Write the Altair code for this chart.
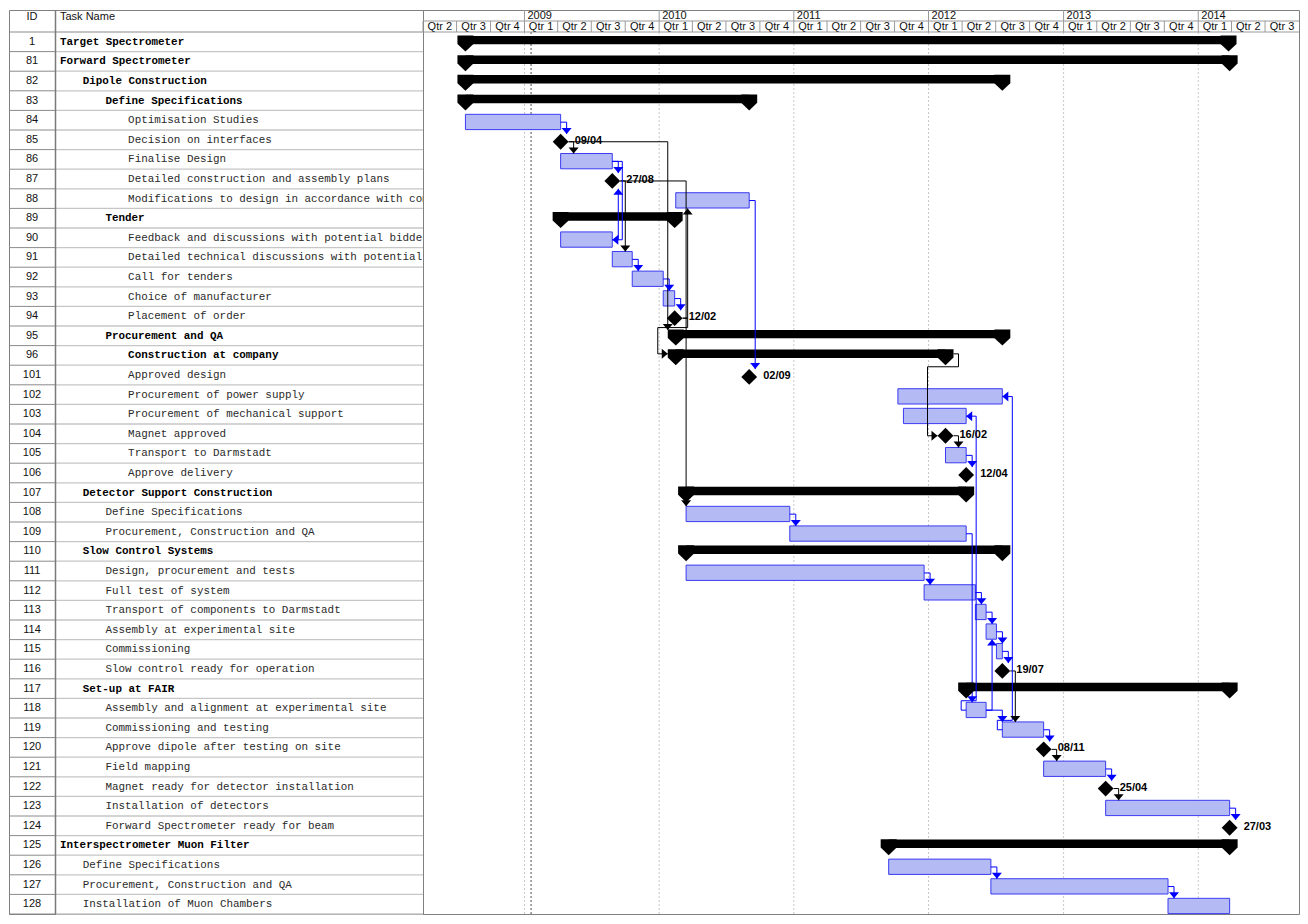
import altair as alt
import pandas as pd

# ---------------- data ----------------
ids = [1, 81, 82, 83, 84, 85, 86, 87, 88, 89, 90, 91, 92, 93, 94, 95, 96,
       101, 102, 103, 104, 105, 106, 107, 108, 109, 110, 111, 112, 113, 114,
       115, 116, 117, 118, 119, 120, 121, 122, 123, 124, 125, 126, 127, 128]
names = ["Target Spectrometer", "Forward Spectrometer", "Dipole Construction",
         "Define Specifications", "Optimisation Studies", "Decision on interfaces",
         "Finalise Design", "Detailed construction and assembly plans",
         "Modifications to design in accordance with comments", "Tender",
         "Feedback and discussions with potential bidders",
         "Detailed technical discussions with potential bidders", "Call for tenders",
         "Choice of manufacturer", "Placement of order", "Procurement and QA",
         "Construction at company", "Approved design", "Procurement of power supply",
         "Procurement of mechanical support", "Magnet approved", "Transport to Darmstadt",
         "Approve delivery", "Detector Support Construction", "Define Specifications",
         "Procurement, Construction and QA", "Slow Control Systems",
         "Design, procurement and tests", "Full test of system",
         "Transport of components to Darmstadt", "Assembly at experimental site",
         "Commissioning", "Slow control ready for operation", "Set-up at FAIR",
         "Assembly and alignment at experimental site", "Commissioning and testing",
         "Approve dipole after testing on site", "Field mapping",
         "Magnet ready for detector installation", "Installation of detectors",
         "Forward Spectrometer ready for beam", "Interspectrometer Muon Filter",
         "Define Specifications", "Procurement, Construction and QA",
         "Installation of Muon Chambers"]
levels = [0, 0, 1, 2, 3, 3, 3, 3, 3, 2, 3, 3, 3, 3, 3, 2, 3,
          3, 3, 3, 3, 3, 3, 1, 2, 2, 1, 2, 2, 2, 2,
          2, 2, 1, 2, 2, 2, 2, 2, 2, 2, 0, 1, 1, 1]
# S = summary, T = task, M = milestone
kinds = ["S", "S", "S", "S", "T", "M", "T", "M", "T", "S", "T", "T", "T", "T", "M", "S", "S",
         "M", "T", "T", "M", "T", "M", "S", "T", "T", "S", "T", "T", "T", "T",
         "T", "M", "S", "T", "T", "M", "T", "M", "T", "M", "S", "T", "T", "T"]
starts = ["2008-07-25", "2008-07-25", "2008-07-25", "2008-07-25", "2008-07-25", "2009-04-09",
          "2009-04-09", "2009-08-27", "2010-02-15", "2009-04-09", "2009-04-09", "2009-08-27",
          "2009-10-20", "2010-01-12", "2010-02-12", "2010-02-15", "2010-02-15",
          "2010-09-02", "2011-10-10", "2011-10-25", "2012-02-16", "2012-02-16", "2012-04-12",
          "2010-03-15", "2010-03-15", "2010-12-21", "2010-03-15", "2010-03-15", "2011-12-20",
          "2012-05-07", "2012-06-05",
          "2012-07-03", "2012-07-19", "2012-04-12", "2012-04-12", "2012-07-19", "2012-11-08",
          "2012-11-08", "2013-04-25", "2013-04-25", "2014-03-27", "2011-09-15", "2011-09-15",
          "2012-06-18", "2013-10-11"]
ends = ["2014-03-24", "2014-03-27", "2012-07-19", "2010-09-02", "2009-04-09", "2009-04-09",
        "2009-08-27", "2009-08-27", "2010-09-02", "2010-02-12", "2009-08-27", "2009-10-20",
        "2010-01-12", "2010-02-12", "2010-02-12", "2012-07-19", "2012-02-16",
        "2010-09-02", "2012-07-19", "2012-04-12", "2012-02-16", "2012-04-12", "2012-04-12",
        "2012-04-12", "2010-12-21", "2012-04-12", "2012-07-19", "2011-12-20", "2012-05-07",
        "2012-06-05", "2012-07-03",
        "2012-07-19", "2012-07-19", "2014-03-27", "2012-06-05", "2012-11-08", "2012-11-08",
        "2013-04-25", "2013-04-25", "2014-03-27", "2014-03-27", "2014-03-27", "2012-06-18",
        "2013-10-11", "2014-03-27"]

# dependency links: predecessor, successor, link style
link_pred = [84, 85, 86, 90, 87, 87, 91, 92, 93, 94, 94, 85, 88, 96, 104, 105, 108, 111,
             112, 113, 114, 115, 116, 109, 118, 118, 119, 120, 121, 122, 123, 126, 127,
             86, 118, 119]
link_succ = [85, 86, 87, 87, 91, 108, 92, 93, 94, 88, 96, 95, 101, 104, 105, 106, 109, 112,
             113, 114, 115, 116, 119, 118, 119, 114, 120, 121, 122, 123, 124, 127, 128,
             90, 103, 102]
link_type = ["FS", "FS", "FS", "FS", "FS", "FS", "FS", "FS", "FS", "FS", "FSB", "FS", "FS",
             "FSB", "FS", "FS", "FS", "FS", "FS", "FS", "FS", "FS", "FS", "FS", "FS", "FS",
             "FS", "FS", "FS", "FS", "FS", "FS", "FS", "FF", "SF", "SF"]

year_labels = ["2009", "2010", "2011", "2012", "2013", "2014"]
quarter_labels = (["Qtr 2", "Qtr 3", "Qtr 4"] + ["Qtr 1", "Qtr 2", "Qtr 3", "Qtr 4"] * 5
                  + ["Qtr 1", "Qtr 2", "Qtr 3"])
status_date = "2009-01-19"
time_start, time_end = "2008-04-01", "2014-10-01"

# ---------------- layout ----------------
ROW = 19.6
HDR_PX = 22
N = len(ids)
HDR = HDR_PX / ROW
TW = 414
GW = 876
H = HDR_PX + N * ROW
D0, D1 = pd.Timestamp(time_start), pd.Timestamp(time_end)
P = (D1 - D0) / GW  # time per pixel

SANS = "Liberation Sans"
MONO = "Liberation Mono"
TASK_FILL = "#b3baf4"
TASK_STROKE = "#3b3bf2"
BLUE = "#0000ff"

tasks = pd.DataFrame(dict(id=ids, name=names, level=levels, kind=kinds,
                          start=pd.to_datetime(starts), end=pd.to_datetime(ends)))
tasks["row"] = range(N)
tasks["ymid"] = tasks.row + 0.5
tasks["btop"] = tasks.row + 0.2
tasks["bbot"] = tasks.row + 0.98
tasks["sbot"] = tasks.row + 0.63
tasks["mk"] = tasks.row + 0.6
tasks["rowend"] = tasks.row + 1.0
tasks["xpos"] = 51 + 22.7 * tasks.level
tasks["label"] = tasks.start.dt.strftime("%d/%m")

summ = tasks[tasks.kind == "S"]
caps = pd.concat([pd.DataFrame({"date": summ.start, "y": summ.row + 1.0}),
                  pd.DataFrame({"date": summ.end, "y": summ.row + 1.0})])

# ---------------- link routing ----------------
info = {i: dict(row=r, kind=k, start=s, end=e)
        for i, r, k, s, e in zip(ids, range(N), kinds, tasks.start, tasks.end)}


def half(i):
    return P * 8 if info[i]["kind"] in ("M", "S") else P * 0


def redge(i):
    return info[i]["end"] + half(i)


def ledge(i):
    return info[i]["start"] - half(i)


def mid(i):
    return info[i]["row"] + (0.42 if info[i]["kind"] == "S" else 0.6)


def top(i):
    return info[i]["row"] + 0.2


def bot(i):
    return info[i]["row"] + 1.0


DOWN = "M-1,-1.2L1,-1.2L0,0Z"
UP = "M-1,1.2L1,1.2L0,0Z"
LEFT = "M0,0L1.2,-1L1.2,1Z"
RIGHT = "M0,0L-1.2,-1L-1.2,1Z"
CAP = "M-1,-2L1,-2L1,-0.95L0,0L-1,-0.95Z"

segs, heads = [], []
for p, s, t in zip(link_pred, link_succ, link_type):
    col = BLUE if info[p]["kind"] == "T" else "#000000"

    def seg(xa, ya, xb, yb):
        segs.append(dict(x=xa, y=ya, x2=xb, y2=yb, color=col))

    def head(x, y, shp):
        heads.append(dict(x=x, y=y, shape=shp, color=col))

    if t == "FS":
        stub = P * (6 if info[p]["kind"] == "T" else 5)
        X = max(redge(p) + stub, ledge(s))
        seg(redge(p), mid(p), X, mid(p))
        if info[s]["row"] > info[p]["row"]:
            seg(X, mid(p), X, top(s))
            head(X, top(s), DOWN)
        else:
            seg(X, mid(p), X, bot(s))
            head(X, bot(s), UP)
    elif t == "FSB":
        X1 = redge(p) + P * 5
        Yb = info[p]["row"] + 1.08
        X2 = ledge(s) - P * 10
        seg(redge(p), mid(p), X1, mid(p))
        seg(X1, mid(p), X1, Yb)
        seg(X1, Yb, X2, Yb)
        seg(X2, Yb, X2, mid(s))
        seg(X2, mid(s), ledge(s), mid(s))
        head(ledge(s), mid(s), RIGHT)
    elif t == "FF":
        X = max(redge(p), redge(s)) + P * 10
        seg(redge(p), mid(p), X, mid(p))
        seg(X, mid(p), X, mid(s))
        seg(X, mid(s), redge(s), mid(s))
        head(redge(s), mid(s), LEFT)
    elif t == "SF":
        Xl = ledge(p) - P * 5
        Yt = info[p]["row"] + 0.12
        X = redge(s) + P * 10
        seg(ledge(p), mid(p), Xl, mid(p))
        seg(Xl, mid(p), Xl, Yt)
        seg(Xl, Yt, X, Yt)
        seg(X, Yt, X, mid(s))
        seg(X, mid(s), redge(s), mid(s))
        head(redge(s), mid(s), LEFT)

segs_df = pd.DataFrame(segs)
heads_df = pd.DataFrame(heads)

# ---------------- timescale header ----------------
qstarts = pd.date_range(time_start, time_end, freq="QS")
quarters = pd.DataFrame({"qs": qstarts[:-1], "qe": qstarts[1:], "label": quarter_labels})
quarters["qm"] = quarters.qs + (quarters.qe - quarters.qs) / 2
quarters["y0"] = -HDR / 2
quarters["y1"] = 0.0
quarters["yt"] = -HDR / 4
years = pd.DataFrame({"label": year_labels,
                      "date": pd.to_datetime([y + "-01-01" for y in year_labels])})
years["y0"] = -HDR
years["y1"] = -HDR / 2
years["yt"] = -HDR * 0.75
years["g0"] = 0.0
years["g1"] = float(N)
hlines = pd.DataFrame({"x": [D0, D0], "x2": [D1, D1], "y": [-HDR / 2, 0.0]})
status = pd.DataFrame({"date": [pd.Timestamp(status_date)], "g0": [0.0], "g1": [float(N)]})

xs = alt.Scale(domain=[alt.DateTime(year=2008, month=4, date=1),
                       alt.DateTime(year=2014, month=10, date=1)])
ys = alt.Scale(domain=[-HDR, N], reverse=True, nice=False, zero=False)


def X(f):
    return alt.X(f + ":T", scale=xs, axis=None, title=None)


def Y(f):
    return alt.Y(f + ":Q", scale=ys, axis=None, title=None)


g_grid = alt.Chart(years).mark_rule(color="#c8c8c8", strokeDash=[2, 2], strokeWidth=1).encode(
    x=X("date"), y=Y("g0"), y2="g1")
g_status = alt.Chart(status).mark_rule(color="#9c9c9c", strokeDash=[2, 2], strokeWidth=1.8).encode(
    x=X("date"), y=Y("g0"), y2="g1")
g_hl = alt.Chart(hlines).mark_rule(color="#9a9a9a").encode(x=X("x"), x2="x2:T", y=Y("y"))
g_qsep = alt.Chart(quarters).mark_rule(color="#9a9a9a").encode(x=X("qs"), y=Y("y0"), y2="y1")
g_ysep = alt.Chart(years).mark_rule(color="#9a9a9a").encode(x=X("date"), y=Y("y0"), y2="y1")
g_qtxt = alt.Chart(quarters).mark_text(font=SANS, fontSize=11, color="#111", baseline="middle").encode(
    x=X("qm"), y=Y("yt"), text="label:N")
g_ytxt = alt.Chart(years).mark_text(font=SANS, fontSize=11, color="#111", align="left", dx=3,
                                    baseline="middle").encode(x=X("date"), y=Y("yt"), text="label:N")

base = alt.Chart(tasks)
g_sum = base.transform_filter("datum.kind == 'S'").mark_rect(color="black").encode(
    x=X("start"), x2="end:T", y=Y("btop"), y2="sbot")
g_caps = alt.Chart(caps).mark_point(shape=CAP, filled=True, size=256, color="black",
                                    opacity=1, strokeWidth=0).encode(x=X("date"), y=Y("y"))
g_task = base.transform_filter("datum.kind == 'T'").mark_rect(
    fill=TASK_FILL, stroke=TASK_STROKE, strokeWidth=1).encode(
    x=X("start"), x2="end:T", y=Y("btop"), y2="bbot")
g_links = alt.Chart(segs_df).mark_rule(strokeWidth=1).encode(
    x=X("x"), x2="x2:T", y=Y("y"), y2="y2", color=alt.Color("color:N", scale=None))
g_heads = alt.Chart(heads_df).mark_point(filled=True, size=100, opacity=1, strokeWidth=0).encode(
    x=X("x"), y=Y("y"), shape=alt.Shape("shape:N", scale=None),
    color=alt.Color("color:N", scale=None))
g_ms = base.transform_filter("datum.kind == 'M'").mark_point(
    shape="diamond", filled=True, size=250, color="black", opacity=1, strokeWidth=0).encode(
    x=X("start"), y=Y("mk"))
g_mslab = base.transform_filter("datum.kind == 'M'").mark_text(
    font=SANS, fontSize=11, fontWeight="bold", align="left", dx=14, dy=-1,
    baseline="middle", color="black").encode(x=X("start"), y=Y("mk"), text="label:N")

gantt = alt.layer(g_grid, g_status, g_hl, g_qsep, g_ysep, g_qtxt, g_ytxt, g_sum, g_task,
                  g_links, g_heads, g_caps, g_ms, g_mslab).properties(width=GW, height=H)

# ---------------- task table ----------------
hdr = pd.DataFrame({"t": ["ID", "Task Name"], "y": [-HDR + 0.37, -HDR + 0.37]})
t_hdr_id = alt.Chart(hdr[hdr.t == "ID"]).mark_text(font=SANS, fontSize=11, color="#111",
                                                   baseline="middle").encode(
    x=alt.value(23), y=Y("y"), text="t:N")
t_hdr_nm = alt.Chart(hdr[hdr.t != "ID"]).mark_text(font=SANS, fontSize=11, color="#111",
                                                   align="left", baseline="middle").encode(
    x=alt.value(51), y=Y("y"), text="t:N")
t_sep_name = base.mark_rule(color="#c6c6c6", strokeWidth=1.3).encode(
    x=alt.value(47), x2=alt.value(TW), y=Y("rowend"))
t_sep_id = base.mark_rule(color="#8a8a8a", strokeWidth=1).encode(
    x=alt.value(0), x2=alt.value(46), y=Y("rowend"))
t_hdr_line = alt.Chart(pd.DataFrame({"y": [0.0]})).mark_rule(color="#8a8a8a").encode(
    x=alt.value(0), x2=alt.value(TW), y=Y("y"))
t_col = alt.Chart(pd.DataFrame({"y": [-HDR], "y2": [float(N)]})).mark_rule(
    color="#7a7a7a", strokeWidth=1.5).encode(x=alt.value(46.5), y=Y("y"), y2="y2")
t_ids = base.mark_text(font=SANS, fontSize=11, color="#111", baseline="middle").encode(
    x=alt.value(23), y=Y("ymid"), text="id:N")
t_names = base.transform_filter("datum.kind != 'S'").mark_text(
    font=MONO, fontSize=10.9, color="#2a2a2a", align="left", baseline="middle", clip=True).encode(
    x=alt.X("xpos:Q", scale=None), y=Y("ymid"), text="name:N")
t_bold = base.transform_filter("datum.kind == 'S'").mark_text(
    font=MONO, fontSize=10.9, fontWeight="bold", color="#000", align="left",
    baseline="middle", clip=True).encode(
    x=alt.X("xpos:Q", scale=None), y=Y("ymid"), text="name:N")

table = alt.layer(t_sep_name, t_sep_id, t_hdr_line, t_col, t_hdr_id, t_hdr_nm, t_ids,
                  t_names, t_bold).properties(width=TW, height=H)

chart = alt.hconcat(table, gantt, spacing=0, bounds="flush", padding=0).configure_view(
    stroke="#7f7f7f", strokeWidth=1)

chart.save("out.html", embed_options={"renderer": "svg", "actions": False})
